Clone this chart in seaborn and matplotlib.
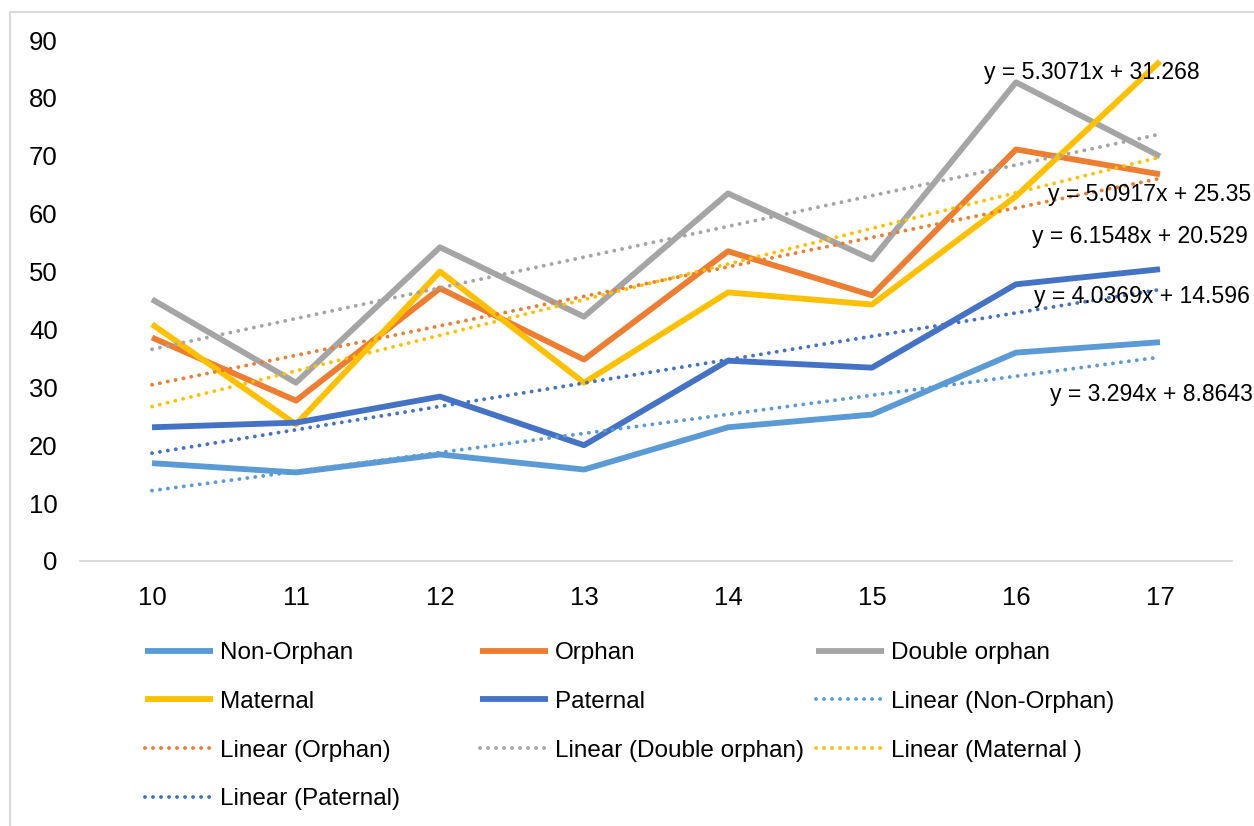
import numpy as np
import pandas as pd
import seaborn as sns
import matplotlib.pyplot as plt
from matplotlib.patches import Rectangle

# data
ages = [10, 11, 12, 13, 14, 15, 16, 17]
non_orphan = [16.9, 15.3, 18.4, 15.8, 23.1, 25.3, 36.0, 37.8]
orphan = [38.6, 27.7, 47.1, 34.8, 53.5, 45.9, 71.1, 66.8]
double_orphan = [45.2, 30.8, 54.2, 42.2, 63.5, 52.1, 82.7, 69.9]
maternal = [40.9, 23.6, 50.0, 30.8, 46.4, 44.3, 63.0, 86.3]
paternal = [23.1, 23.9, 28.4, 20.0, 34.6, 33.4, 47.8, 50.4]

groups = ["Non-Orphan", "Orphan", "Double orphan", "Maternal", "Paternal"]
trend_labels = ["Linear (Non-Orphan)", "Linear (Orphan)", "Linear (Double orphan)",
                "Linear (Maternal )", "Linear (Paternal)"]
# Excel trendline coefficients (x = 1..8)
slopes = [3.294, 5.0917, 5.3071, 6.1548, 4.0369]
intercepts = [8.8643, 25.35, 31.268, 20.529, 14.596]
equations = ["y = 3.294x + 8.8643", "y = 5.0917x + 25.35", "y = 5.3071x + 31.268",
             "y = 6.1548x + 20.529", "y = 4.0369x + 14.596"]

colors = ["#5B9BD5", "#ED7D31", "#A5A5A5", "#FFC000", "#4472C4"]

df = pd.DataFrame({
    "age": ages * 5,
    "score": non_orphan + orphan + double_orphan + maternal + paternal,
    "group": [g for g in groups for _ in ages],
})
idx = np.arange(1, len(ages) + 1)
trend = pd.DataFrame({
    "age": ages * 5,
    "score": np.concatenate([s * idx + b for s, b in zip(slopes, intercepts)]),
    "group": [t for t in trend_labels for _ in ages],
})

sns.set_style("white")
plt.rcParams["font.family"] = ["Liberation Sans", "DejaVu Sans"]
plt.rcParams["text.color"] = "black"

W, H = 1254, 826
fig = plt.figure(figsize=(W / 100, H / 100), dpi=100)
ax = fig.add_axes([80 / W, 1 - 561 / H, (1232 - 80) / W, (561 - 40) / H])

handles = {}
for g, c in zip(groups, colors):
    sns.lineplot(data=df[df["group"] == g], x="age", y="score", color=c,
                 linewidth=4.2, ax=ax, zorder=2, solid_capstyle="butt")
    handles[g] = ax.lines[-1]
for t, c in zip(trend_labels, colors):
    sns.lineplot(data=trend[trend["group"] == t], x="age", y="score", color=c,
                 linewidth=2.8, linestyle=(0, (0.01, 2.05)), dash_capstyle="round",
                 ax=ax, zorder=3)
    handles[t] = ax.lines[-1]

ax.set_xlim(9.5, 17.5)
ax.set_ylim(0, 90)
ax.set_xticks(ages)
ax.set_yticks(range(0, 91, 10))
ax.set_xlabel("")
ax.set_ylabel("")
ax.tick_params(axis="both", length=0, labelsize=18.5, labelcolor="black")
ax.tick_params(axis="y", pad=16)
ax.tick_params(axis="x", pad=18)
for s in ["top", "right", "left"]:
    ax.spines[s].set_visible(False)
ax.spines["bottom"].set_color("#D9D9D9")
ax.spines["bottom"].set_linewidth(1.3)

# trendline equations
eq_pos = [(1050, 395), (1048, 195), (984, 73), (1032, 236), (1034, 297)]
for eq, (px, py) in zip(equations, eq_pos):
    fig.text(px / W, 1 - py / H, eq, fontsize=16.6, ha="left", va="center",
             color="black")

# legend, laid out in three equal columns like Excel
cols = [
    (145, ["Non-Orphan", "Maternal", "Linear (Orphan)", "Linear (Paternal)"]),
    (480, ["Orphan", "Paternal", "Linear (Double orphan)"]),
    (816, ["Double orphan", "Linear (Non-Orphan)", "Linear (Maternal )"]),
]
for x0, labels in cols:
    leg = fig.legend([handles[l] for l in labels], labels, loc="upper left",
                     bbox_to_anchor=(x0 / W, 1 - 642 / H), frameon=False,
                     fontsize=17.5, handlelength=2.8, handletextpad=0.3,
                     labelspacing=1.1, borderpad=0, borderaxespad=0,
                     labelcolor="black")

# chart area border
fig.patches.append(Rectangle((10 / W, -0.1), 1.2, 1 - 12 / H + 0.1,
                             transform=fig.transFigure, fill=False,
                             edgecolor="#D9D9D9", linewidth=1.5))

fig.savefig("out.png", dpi=100)
